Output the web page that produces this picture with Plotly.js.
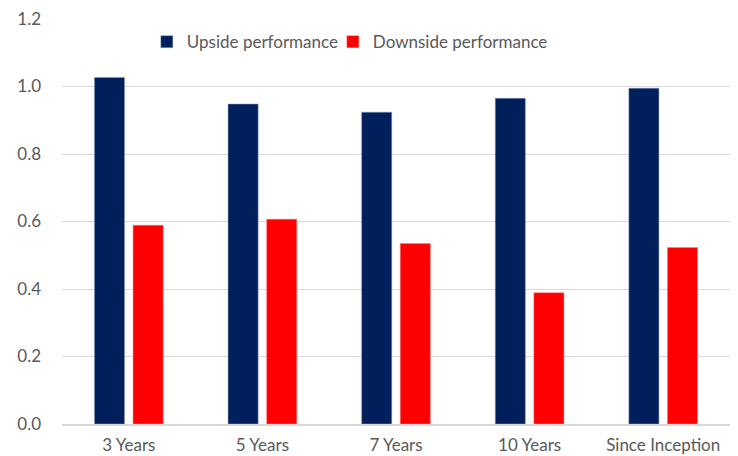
<!DOCTYPE html>
<html>
<head>
<meta charset="utf-8">
<script src="https://cdn.plot.ly/plotly-3.0.1.min.js"></script>
<style>html,body{margin:0;padding:0;background:#fff;}#chart{width:738px;height:456px;}</style>
</head>
<body>
<div id="chart"></div>
<script>
const categories = ["3 Years", "5 Years", "7 Years", "10 Years", "Since Inception"];
const upside = [1.027, 0.948, 0.924, 0.965, 0.995];
const downside = [0.589, 0.607, 0.535, 0.389, 0.523];
const yTicks = [0, 0.2, 0.4, 0.6, 0.8, 1.0, 1.2];

const traces = [
  {type: "bar", name: "Upside performance", x: categories, y: upside, legendwidth: 141,
   marker: {color: "#001f5b", line: {color: "#8ea0c4", width: 0.5}}, hoverinfo: "y"},
  {type: "bar", name: "Downside performance", x: categories, y: downside, legendwidth: 185,
   marker: {color: "#ff0000", line: {color: "#ff8080", width: 0.5}}, hoverinfo: "y"}
];

const layout = {
  width: 738, height: 456,
  margin: {l: 62, r: 8, t: 19, b: 32},
  paper_bgcolor: "#ffffff", plot_bgcolor: "#ffffff",
  font: {family: "Lato, 'Open Sans', sans-serif", size: 17, color: "#595959"},
  barmode: "group", bargap: 0.422, bargroupgap: 0.22,
  showlegend: true,
  legend: {orientation: "h", x: 0.127, xanchor: "left", y: 0.943, yanchor: "middle",
           font: {size: 17, color: "#595959"}, bgcolor: "rgba(0,0,0,0)",
           entrywidthmode: "pixels", tracegroupgap: 0},
  xaxis: {showgrid: false, showline: true, linecolor: "#d9d9d9", linewidth: 1.5,
          ticks: "", ticklabelstandoff: 5, tickfont: {size: 17, color: "#595959"}, fixedrange: true},
  yaxis: {range: [0, 1.2], tickvals: yTicks, tickformat: ".1f", showgrid: true,
          gridcolor: "#d9d9d9", gridwidth: 1, zeroline: false, showline: false,
          ticks: "", ticklabelstandoff: 20, tickfont: {size: 17, color: "#595959"}, fixedrange: true}
};

Plotly.newPlot("chart", traces, layout, {displayModeBar: false, staticPlot: true});
</script>
</body>
</html>
